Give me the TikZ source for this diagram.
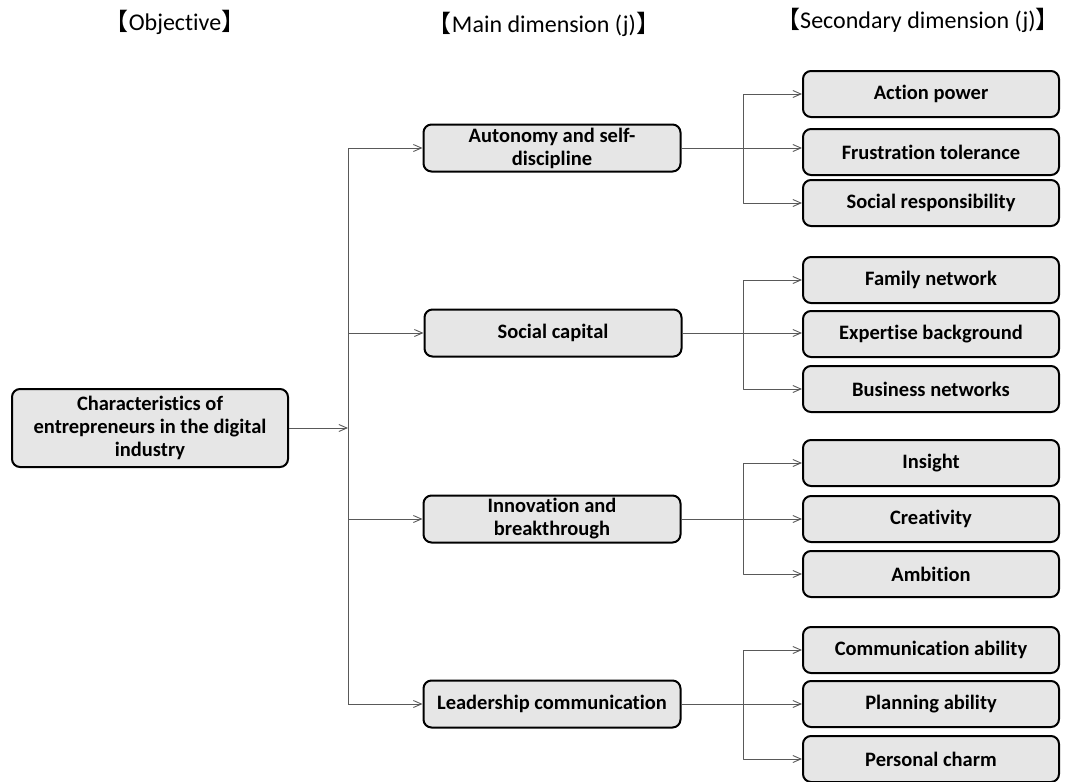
\documentclass[tikz,border=0pt]{standalone}
\usepackage{fontspec}
\setmainfont[Ligatures=NoCommon]{Carlito}
\newfontfamily\cjk{Noto Sans CJK SC}
\usetikzlibrary{arrows.meta}
\definecolor{boxgray}{RGB}{230,230,230}
\newcommand{\hdr}[1]{{\cjk 【}#1{\cjk 】}}
\begin{document}
\begin{tikzpicture}[x=1pt,y=-1pt,line join=round,
 >={Straight Barb[length=8pt,width=7pt]},
 box/.style={draw,line width=2pt,rounded corners=8pt,fill=boxgray,align=center,
  inner sep=0pt,font=\bfseries\fontsize{20.5}{23}\selectfont},
 mainbox/.style={box,minimum width=257pt,minimum height=47pt},
 subbox/.style={box,minimum width=256pt,minimum height=46pt},
 link/.style={draw=black!65,line width=0.9pt},
 head/.style={font=\fontsize{24}{28}\selectfont}]
 \useasboundingbox (0,0) rectangle (1066,782);
 % column titles
 \node[head] (h1) at (175,22) {\hdr{Objective}};
 \node[head] (h2) at (544,24) {\hdr{Main dimension (j)}};
 \node[head] (h3) at (918,20) {\hdr{Secondary dimension (j)}};
 % objective and main dimensions
 \node[box,minimum width=276pt,minimum height=78pt] (obj) at (150,428)
  {Characteristics of\\entrepreneurs in the digital\\industry};
 \node[mainbox] (m1) at (552,148) {Autonomy and self-\\discipline};
 \node[mainbox] (m2) at (553,333) {Social capital};
 \node[mainbox] (m3) at (552,519) {Innovation and\\breakthrough};
 \node[mainbox] (m4) at (552,704) {Leadership communication};
 % secondary dimensions
 \foreach \y/\n/\t in {94/s11/Action power,152/s12/Frustration tolerance,
  203/s13/Social responsibility,280/s21/Family network,334/s22/Expertise background,
  389/s23/Business networks,463/s31/Insight,519/s32/Creativity,574/s33/Ambition,
  650/s41/Communication ability,704/s42/Planning ability,759/s43/Personal charm}
  \node[subbox] (\n) at (931,\y) {\t};
 % trunk
 \coordinate (trunk) at (348,0);
 \coordinate (br) at (743,0);
 \draw[link,->] (obj.east) -- (obj.east -| trunk);
 \draw[link] (trunk |- m1) -- (trunk |- m4);
 \foreach \m in {m1,m2,m3,m4} \draw[link,->] (trunk |- \m) -- (\m.west);
 % branches
 \foreach \m/\a/\b/\c in {m1/s11/s12/s13,m2/s21/s22/s23,m3/s31/s32/s33,m4/s41/s42/s43}{
  \draw[link,->] (\m.east) -- (\m.east -| \b.west);
  \draw[link,<->] (\a.west) -- (br |- \a.west) -- (br |- \c.west) -- (\c.west);
 }
\end{tikzpicture}
\end{document}
